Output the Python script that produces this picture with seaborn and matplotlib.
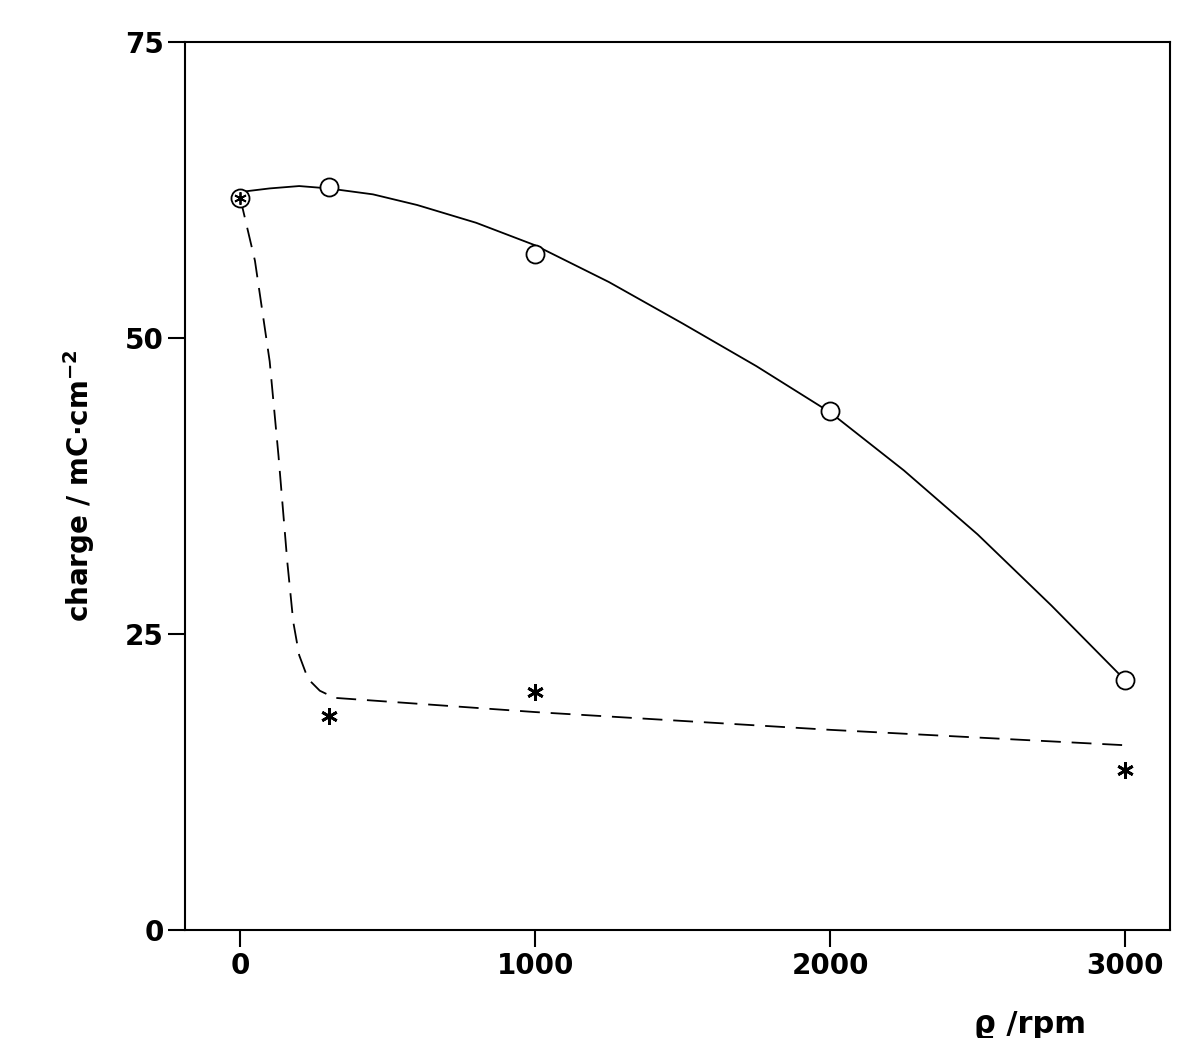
import numpy as np
import matplotlib.pyplot as plt
import seaborn as sns

# measured points
rpm_open = [0, 300, 1000, 2000, 3000]
charge_open = [61.8, 62.7, 57.1, 43.8, 21.1]
rpm_star = [300, 1000, 3000]
charge_star = [18.1, 20.1, 13.5]
# hand-drawn guide curves
solid_x = [0, 100, 200, 300, 450, 600, 800, 1000, 1250, 1500, 1750, 2000, 2250, 2500, 2750, 3000]
solid_y = [62.3, 62.6, 62.8, 62.6, 62.1, 61.2, 59.7, 57.8, 54.7, 51.2, 47.6, 43.7, 38.8, 33.4, 27.4, 21.1]
dash_x = [0, 50, 100, 130, 160, 180, 200, 230, 270, 320, 1000, 2000, 3000]
dash_y = [61.8, 56.5, 48.0, 40.0, 31.0, 26.0, 23.2, 21.2, 20.2, 19.6, 18.4, 16.9, 15.6]

sns.set_style("ticks")
plt.rcParams['font.family'] = ['DejaVu Sans']
plt.rcParams['font.weight'] = 'bold'
plt.rcParams['text.color'] = 'black'
plt.rcParams['axes.labelcolor'] = 'black'
plt.rcParams['xtick.color'] = 'black'
plt.rcParams['ytick.color'] = 'black'
plt.rcParams['axes.edgecolor'] = 'black'

fig = plt.figure(figsize=(11.88, 10.38), dpi=100)
ax = fig.add_axes([0.156, 0.104, 0.829, 0.856])

sns.lineplot(x=solid_x, y=solid_y, color='black', lw=1.3, ax=ax)
sns.lineplot(x=dash_x, y=dash_y, color='black', lw=1.3, ax=ax,
             linestyle=(0, (11, 6)))
ax.plot(rpm_open, charge_open, 'o', mfc='white', mec='black', ms=13, mew=1.3)
ax.plot(rpm_star, charge_star, marker=(6, 2, 0), color='black', ms=12, mew=2, ls='none')
ax.plot([0], [61.8], marker=(6, 2, 0), color='black', ms=9, mew=1.3)

ax.set_xlim(-186, 3153)
ax.set_ylim(0, 75)
ax.set_xticks([0, 1000, 2000, 3000])
ax.set_yticks([0, 25, 50, 75])
ax.tick_params(labelsize=20, width=1.5, length=12, direction='out')
for lab in ax.get_xticklabels() + ax.get_yticklabels():
    lab.set_fontweight('bold')
for s in ax.spines.values():
    s.set_linewidth(1.5)
    s.set_visible(True)
ax.set_ylabel('charge $/$ mC·cm$^{-2}$', fontsize=20, fontweight='bold', labelpad=20)
fig.text(0.82, 0.005, 'ϱ /rpm', fontsize=22, fontweight='bold')

fig.savefig('out.png', dpi=100)
